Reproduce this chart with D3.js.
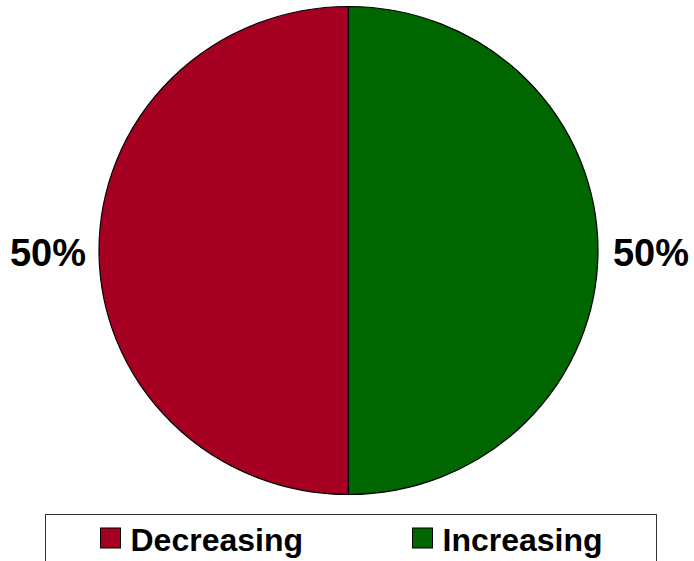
<!DOCTYPE html>
<html>
<head>
<meta charset="utf-8">
<script src="https://cdn.jsdelivr.net/npm/d3@7/dist/d3.min.js"></script>
<style>
  html, body { margin: 0; padding: 0; background: #fff; }
  svg { display: block; }
  text { font-family: "Liberation Sans", Arial, sans-serif; font-weight: bold; fill: #000; }
</style>
</head>
<body>
<svg id="chart" width="694" height="561"></svg>
<script>
// Share of items by trend
const categories = ["Decreasing", "Increasing"];
const shares = [50, 50];
const colors = ["#A50021", "#006600"];

const svg = d3.select("#chart");
const W = 694, H = 561;

const cx = 348.5, cy = 250.5, rx = 249.5, ry = 244;

const pie = d3.pie().sort(null).startAngle(2 * Math.PI).endAngle(0)(shares);
// start at 12 o'clock, first slice going counter-clockwise (left half)
const arc = d3.arc().innerRadius(0).outerRadius(rx);

const color = d3.scaleOrdinal().domain(categories).range(colors);

const g = svg.append("g")
  .attr("transform", `translate(${cx},${cy}) scale(1,${ry / rx})`);

g.selectAll("path")
  .data(pie)
  .join("path")
  .attr("d", arc)
  .attr("fill", (d, i) => color(categories[i]))
  .attr("stroke", "#000")
  .attr("stroke-width", 1.2)
  .attr("vector-effect", "non-scaling-stroke");

// Percentage labels outside each slice
const fmt = d => d3.format(".0f")(d) + "%";
const labelX = [48, 651];
svg.selectAll("text.pct")
  .data(pie)
  .join("text")
  .attr("class", "pct")
  .attr("x", (d, i) => labelX[i])
  .attr("y", 266)
  .attr("text-anchor", "middle")
  .style("font-size", "38px")
  .text(d => fmt(d.data));

// Legend
const legend = svg.append("g");
legend.append("rect")
  .attr("x", 45.5).attr("y", 514.5)
  .attr("width", 611).attr("height", 60)
  .attr("fill", "#fff")
  .attr("stroke", "#333")
  .attr("stroke-width", 1);

const legendX = [100.5, 412.5];
const items = legend.selectAll("g.item")
  .data(categories)
  .join("g")
  .attr("class", "item")
  .attr("transform", (d, i) => `translate(${legendX[i]},528)`);

items.append("rect")
  .attr("width", 20).attr("height", 20)
  .attr("fill", d => color(d))
  .attr("stroke", "#000")
  .attr("stroke-width", 1);

items.append("text")
  .attr("x", 30)
  .attr("y", 22.5)
  .style("font-size", "32px")
  .text(d => d);
</script>
</body>
</html>
